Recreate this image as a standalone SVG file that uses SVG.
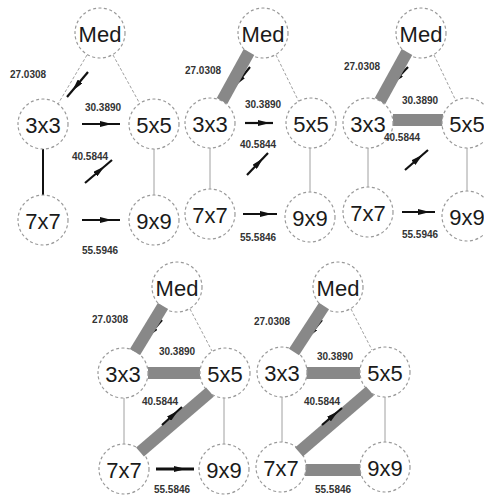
<svg xmlns="http://www.w3.org/2000/svg" width="484" height="497" viewBox="0 0 484 497">
  <style>
    .node circle { fill: #fff; stroke: #9a9a9a; stroke-width: 1.2; stroke-dasharray: 3 2.5; }
    .node text { font-family: "Liberation Sans", Arial, sans-serif; font-size: 22px; fill: #1a1a1a; text-anchor: middle; dominant-baseline: central; }
    .edge { stroke: #a0a0a0; stroke-width: 1; fill: none; }
    .edge.dash { stroke-dasharray: 3 2; }
    .edge.dark { stroke: #111; stroke-width: 2; }
    .band { stroke: #888; stroke-width: 12; fill: none; }
    .arrow { stroke: #111; stroke-width: 2.2; fill: none; marker-mid: url(#head); }
    .lbl { font-family: "Liberation Sans", Arial, sans-serif; font-size: 10px; font-weight: bold; fill: #333; text-anchor: middle; }
  </style>
  <defs>
    <marker id="head" viewBox="0 0 12 6" refX="4" refY="3" markerWidth="12" markerHeight="6" markerUnits="userSpaceOnUse" orient="auto">
      <path d="M0,0 L12,3 L0,6 Z" fill="#111"/>
    </marker>
  </defs>
  <rect width="484" height="497" fill="#fff"/>

  <!-- connectors: thin edges, highlighted bands, flow arrows -->
  <g id="connectors">
    <!-- panel 1 -->
    <line class="edge dash" x1="87" y1="55" x2="58" y2="104"/>
    <line class="edge dash" x1="113" y1="55" x2="140" y2="104"/>
    <line class="edge dark" x1="43" y1="149" x2="43" y2="195"/>
    <line class="edge" x1="154" y1="149" x2="154" y2="195"/>
    <path class="arrow" d="M88,72 L77.5,84.5 L67,97"/>
    <path class="arrow" d="M82,124 L104,124 L120,124"/>
    <path class="arrow" d="M85,183 L98.5,171.5 L112,160"/>
    <path class="arrow" d="M82,220 L104,220 L120,220"/>

    <!-- panel 2 -->
    <line class="edge dash" x1="276" y1="55" x2="299" y2="102"/>
    <line class="edge" x1="210" y1="148" x2="210" y2="189"/>
    <line class="edge" x1="310" y1="148" x2="310" y2="192"/>
    <path class="arrow" d="M250,67 L240,79.5 L230,92"/>
    <path class="arrow" d="M245,123 L262,123 L273,123"/>
    <path class="arrow" d="M247,175 L257.5,164 L268,153"/>
    <path class="arrow" d="M243,214 L264,214 L277,214"/>

    <!-- panel 3 -->
    <line class="edge dash" x1="434" y1="55" x2="456" y2="101"/>
    <line class="edge" x1="368" y1="148" x2="368" y2="187"/>
    <line class="edge" x1="467" y1="148" x2="467" y2="191"/>
    <line class="band" x1="393" y1="120" x2="443" y2="120"/>
    <path class="arrow" d="M408,67 L398,77.5 L388,88"/>
    <path class="arrow" d="M405,170 L416.5,160 L428,150"/>
    <path class="arrow" d="M402,212 L422,212 L435,212"/>

    <!-- panel 4 -->
    <line class="edge dash" x1="190" y1="309" x2="212" y2="351"/>
    <line class="edge" x1="124" y1="398" x2="124" y2="444"/>
    <line class="edge" x1="224" y1="398" x2="224" y2="444"/>
    <line class="band" x1="148" y1="373" x2="200" y2="373"/>
    <path class="arrow" d="M162,320 L152.5,331 L143,342"/>
    <path class="arrow" style="stroke-width:3" d="M156,469 L178,469 L194,469"/>

    <!-- panel 5 -->
    <line class="edge dash" x1="351" y1="309" x2="372" y2="350"/>
    <line class="edge" x1="282" y1="397" x2="282" y2="442"/>
    <line class="edge" x1="385" y1="397" x2="385" y2="442"/>
    <line class="band" x1="306" y1="373" x2="360" y2="373"/>
    <line class="band" x1="305" y1="470" x2="361" y2="470"/>
    <path class="arrow" d="M322,320 L312.5,331.5 L303,343"/>
  </g>

  <!-- panel 1 nodes -->
  <g id="p1-med" class="node"><circle cx="100" cy="33" r="25"/><text x="100" y="34">Med</text></g>
  <g id="p1-3x3" class="node"><circle cx="43" cy="124" r="25"/><text x="43" y="125">3x3</text></g>
  <g id="p1-5x5" class="node"><circle cx="154" cy="124" r="25"/><text x="154" y="125">5x5</text></g>
  <g id="p1-7x7" class="node"><circle cx="43" cy="220" r="25"/><text x="43" y="221">7x7</text></g>
  <g id="p1-9x9" class="node"><circle cx="154" cy="220" r="25"/><text x="154" y="221">9x9</text></g>

  <!-- panel 2 nodes -->
  <g id="p2-med" class="node"><circle cx="263" cy="33" r="25"/><text x="263" y="34">Med</text></g>
  <g id="p2-3x3" class="node"><circle cx="210" cy="123" r="25"/><text x="210" y="124">3x3</text></g>
  <g id="p2-5x5" class="node"><circle cx="311" cy="123" r="25"/><text x="311" y="124">5x5</text></g>
  <g id="p2-7x7" class="node"><circle cx="210" cy="214" r="25"/><text x="210" y="215">7x7</text></g>
  <g id="p2-9x9" class="node"><circle cx="310" cy="217" r="25"/><text x="310" y="218">9x9</text></g>

  <!-- panel 3 nodes -->
  <g id="p3-med" class="node"><circle cx="421" cy="33" r="25"/><text x="421" y="34">Med</text></g>
  <g id="p3-3x3" class="node"><circle cx="368" cy="123" r="25"/><text x="368" y="124">3x3</text></g>
  <g id="p3-5x5" class="node"><circle cx="467" cy="123" r="25"/><text x="467" y="124">5x5</text></g>
  <g id="p3-7x7" class="node"><circle cx="368" cy="212" r="25"/><text x="368" y="213">7x7</text></g>
  <g id="p3-9x9" class="node"><circle cx="467" cy="216" r="25"/><text x="467" y="217">9x9</text></g>

  <!-- panel 4 nodes -->
  <g id="p4-med" class="node"><circle cx="177" cy="287" r="25"/><text x="177" y="288">Med</text></g>
  <g id="p4-3x3" class="node"><circle cx="123" cy="373" r="25"/><text x="123" y="374">3x3</text></g>
  <g id="p4-5x5" class="node"><circle cx="225" cy="373" r="25"/><text x="225" y="374">5x5</text></g>
  <g id="p4-7x7" class="node"><circle cx="124" cy="469" r="25"/><text x="124" y="470">7x7</text></g>
  <g id="p4-9x9" class="node"><circle cx="224" cy="469" r="25"/><text x="224" y="470">9x9</text></g>

  <!-- panel 5 nodes -->
  <g id="p5-med" class="node"><circle cx="338" cy="287" r="25"/><text x="338" y="288">Med</text></g>
  <g id="p5-3x3" class="node"><circle cx="282" cy="372" r="25"/><text x="282" y="373">3x3</text></g>
  <g id="p5-5x5" class="node"><circle cx="385" cy="372" r="25"/><text x="385" y="373">5x5</text></g>
  <g id="p5-7x7" class="node"><circle cx="281" cy="467" r="25"/><text x="281" y="468">7x7</text></g>
  <g id="p5-9x9" class="node"><circle cx="385" cy="467" r="25"/><text x="385" y="468">9x9</text></g>

  <!-- diagonal bands and their arrows, drawn over the circle outlines -->
  <g id="bands-over">
    <line class="band" x1="249" y1="52" x2="222" y2="101"/>
    <line class="band" x1="407" y1="52" x2="380" y2="101"/>
    <line class="band" x1="163" y1="306" x2="135" y2="352"/>
    <line class="band" x1="210" y1="392" x2="140" y2="452"/>
    <line class="band" x1="324" y1="306" x2="294" y2="352"/>
    <line class="band" x1="370" y1="391" x2="299" y2="452"/>
    <path class="arrow" d="M322,425 L332,416.5 L342,408"/>
    <path class="arrow" d="M162,425 L172,416 L182,407"/>
  </g>

  <!-- edge weights -->
  <g id="labels">
    <text class="lbl" x="28" y="78">27.0308</text>
    <text class="lbl" x="103" y="111">30.3890</text>
    <text class="lbl" x="90" y="160">40.5844</text>
    <text class="lbl" x="100" y="254">55.5946</text>

    <text class="lbl" x="203" y="74">27.0308</text>
    <text class="lbl" x="263" y="108">30.3890</text>
    <text class="lbl" x="258" y="148">40.5844</text>
    <text class="lbl" x="258" y="241">55.5846</text>

    <text class="lbl" x="362" y="70">27.0308</text>
    <text class="lbl" x="420" y="104">30.3890</text>
    <text class="lbl" x="402" y="141">40.5844</text>
    <text class="lbl" x="420" y="238">55.5946</text>

    <text class="lbl" x="110" y="323">27.0308</text>
    <text class="lbl" x="177" y="355">30.3890</text>
    <text class="lbl" x="160" y="405">40.5844</text>
    <text class="lbl" x="172" y="493">55.5846</text>

    <text class="lbl" x="272" y="325">27.0308</text>
    <text class="lbl" x="335" y="360">30.3890</text>
    <text class="lbl" x="322" y="405">40.5844</text>
    <text class="lbl" x="333" y="493">55.5846</text>
  </g>
</svg>
